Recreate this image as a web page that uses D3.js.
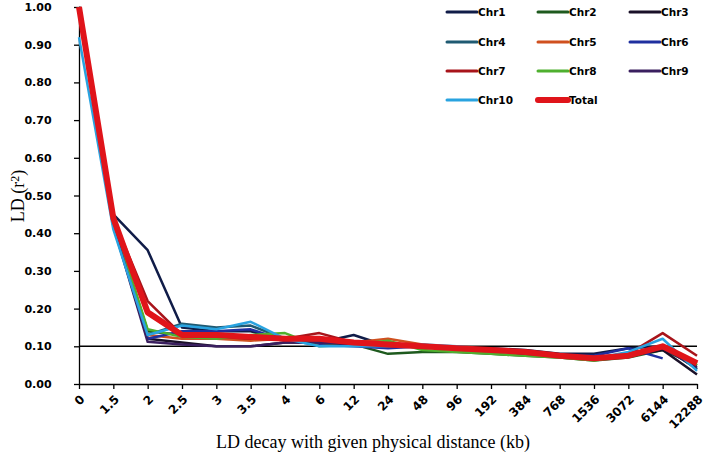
<!DOCTYPE html>
<meta charset="utf-8">
<title>LD decay</title>
<style>
  body { margin: 0; background: #fff; }
  .tick text { font-family: "DejaVu Sans", sans-serif; font-weight: bold; font-size: 11px; fill: #000; }
  .ttl { font-family: "Liberation Serif", serif; font-size: 18px; fill: #000; }
  .leg text { font-family: "DejaVu Sans", sans-serif; font-weight: bold; font-size: 10.5px; fill: #000; }
</style>
<div id="viz"></div>
<script src="https://cdnjs.cloudflare.com/ajax/libs/d3/7.8.5/d3.min.js"></script>
<script>

var width = 709;
var height = 456;

// distance classes (kb)
var cats = ["0", "1.5", "2", "2.5", "3", "3.5", "4", "6", "12", "24", "48", "96",
            "192", "384", "768", "1536", "3072", "6144", "12288"];
var yTicks = [0, 0.1, 0.2, 0.3, 0.4, 0.5, 0.6, 0.7, 0.8, 0.9, 1.0];
var threshold = 0.10;

var chr1  = [1.00, 0.45, 0.355, 0.15, 0.14, 0.14, 0.115, 0.11, 0.13, 0.10, 0.10, 0.095, 0.095, 0.09, 0.08, 0.08, 0.095, 0.10, 0.04];
var chr2  = [1.00, 0.43, 0.14, 0.13, 0.12, 0.12, 0.12, 0.11, 0.105, 0.08, 0.085, 0.085, 0.08, 0.075, 0.07, 0.062, 0.07, 0.09, 0.05];
var chr3  = [1.00, 0.43, 0.12, 0.11, 0.10, 0.10, 0.11, 0.11, 0.105, 0.10, 0.10, 0.095, 0.09, 0.085, 0.075, 0.07, 0.075, 0.09, 0.025];
var chr4  = [1.00, 0.42, 0.13, 0.16, 0.15, 0.155, 0.12, 0.11, 0.105, 0.10, 0.10, 0.095, 0.09, 0.085, 0.075, 0.07, 0.08, 0.10, 0.04];
var chr5  = [1.00, 0.43, 0.13, 0.12, 0.12, 0.115, 0.12, 0.115, 0.11, 0.12, 0.105, 0.095, 0.09, 0.08, 0.075, 0.068, 0.075, 0.10, 0.055];
var chr6  = [1.00, 0.42, 0.12, 0.14, 0.14, 0.145, 0.115, 0.105, 0.10, 0.095, 0.10, 0.095, 0.09, 0.085, 0.075, 0.075, 0.095, 0.068, null];
var chr7  = [1.00, 0.44, 0.22, 0.13, 0.125, 0.12, 0.12, 0.135, 0.11, 0.10, 0.10, 0.095, 0.09, 0.08, 0.075, 0.068, 0.08, 0.135, 0.075];
var chr8  = [1.00, 0.43, 0.145, 0.125, 0.12, 0.13, 0.135, 0.10, 0.105, 0.115, 0.09, 0.085, 0.08, 0.075, 0.07, 0.062, 0.075, 0.10, 0.05];
var chr9  = [1.00, 0.42, 0.112, 0.105, 0.10, 0.10, 0.11, 0.11, 0.105, 0.10, 0.10, 0.095, 0.09, 0.08, 0.075, 0.068, 0.075, 0.095, 0.045];
var chr10 = [0.92, 0.41, 0.13, 0.155, 0.145, 0.165, 0.12, 0.10, 0.10, 0.10, 0.105, 0.10, 0.09, 0.085, 0.075, 0.068, 0.085, 0.12, 0.035];
var total = [1.00, 0.44, 0.19, 0.13, 0.13, 0.125, 0.12, 0.12, 0.11, 0.105, 0.10, 0.095, 0.09, 0.085, 0.075, 0.068, 0.075, 0.10, 0.055];

var names = ["Chr1", "Chr2", "Chr3", "Chr4", "Chr5", "Chr6", "Chr7", "Chr8", "Chr9", "Chr10", "Total"];
var values = [chr1, chr2, chr3, chr4, chr5, chr6, chr7, chr8, chr9, chr10, total];
var colors = ["#101c48", "#1e5a1e", "#1a1028", "#1f5a72", "#d0501f", "#1f2f9f",
              "#a8141a", "#4fb02f", "#3a1f5f", "#29a3e0", "#e0141a"];

// plot box (window.top is reserved, so use other names)
var plotL = 79, plotR = 697, plotT = 7, plotB = 384;

var x = d3.scalePoint().domain(cats).range([plotL, plotR]);
var y = d3.scaleLinear().domain([0, 1]).range([plotB, plotT]);

var svg = d3.select("#viz").append("svg")
  .attr("width", width)
  .attr("height", height);

// axes
var yAxis = svg.append("g")
  .attr("transform", "translate(" + plotL + ",0)")
  .call(d3.axisLeft(y).tickValues(yTicks).tickFormat(d3.format(".2f")).tickSize(5).tickSizeOuter(0));
yAxis.select(".domain").attr("stroke", "#000").attr("stroke-width", 1.3);
yAxis.selectAll(".tick line").attr("stroke", "#000").attr("stroke-width", 1.3);
yAxis.selectAll(".tick text").attr("x", -41).attr("text-anchor", "middle");

var xAxis = svg.append("g")
  .attr("transform", "translate(0," + plotB + ")")
  .call(d3.axisBottom(x).tickSize(5).tickSizeOuter(0));
xAxis.select(".domain").attr("stroke", "#000").attr("stroke-width", 1.3);
xAxis.selectAll(".tick line").attr("stroke", "#000").attr("stroke-width", 1.3);
xAxis.selectAll(".tick text")
  .attr("text-anchor", "end")
  .attr("dy", null)
  .attr("y", 0)
  .style("font-size", "12px")
  .attr("transform", "translate(6,16) rotate(-45)");

// 0.10 reference line
svg.append("line")
  .attr("x1", plotL).attr("x2", plotR)
  .attr("y1", y(threshold)).attr("y2", y(threshold))
  .attr("stroke", "#000").attr("stroke-width", 1.6);

// series
var line = d3.line()
  .defined(function(d) { return d != null; })
  .x(function(d, i) { return x(cats[i]); })
  .y(function(d) { return y(d); });

values.forEach(function(v, k) {
  svg.append("path")
    .attr("d", line(v))
    .attr("fill", "none")
    .attr("stroke", colors[k])
    .attr("stroke-width", names[k] == "Total" ? 6 : 2.5)
    .attr("stroke-linejoin", "round");
});

// legend
var colX = [447, 538, 630];
var rowY = [12, 42, 71, 100];
var leg = svg.append("g").attr("class", "leg");
names.forEach(function(n, k) {
  var cx = colX[k % 3], cy = rowY[Math.floor(k / 3)];
  leg.append("line")
    .attr("x1", cx).attr("x2", cx + 30)
    .attr("y1", cy).attr("y2", cy)
    .attr("stroke", colors[k])
    .attr("stroke-width", n == "Total" ? 6 : 3)
    .attr("stroke-linecap", "round");
  leg.append("text")
    .attr("x", cx + 31).attr("y", cy + 4)
    .text(n);
});

// titles
svg.append("text")
  .attr("class", "ttl")
  .attr("x", 373).attr("y", 448)
  .attr("text-anchor", "middle")
  .text("LD decay with given physical distance (kb)");

svg.append("text")
  .attr("class", "ttl")
  .attr("transform", "translate(24,196) rotate(-90)")
  .attr("text-anchor", "middle")
  .html("LD (r<tspan dy='-5' font-size='12px'>2</tspan><tspan dy='5'>)</tspan>");

</script>
